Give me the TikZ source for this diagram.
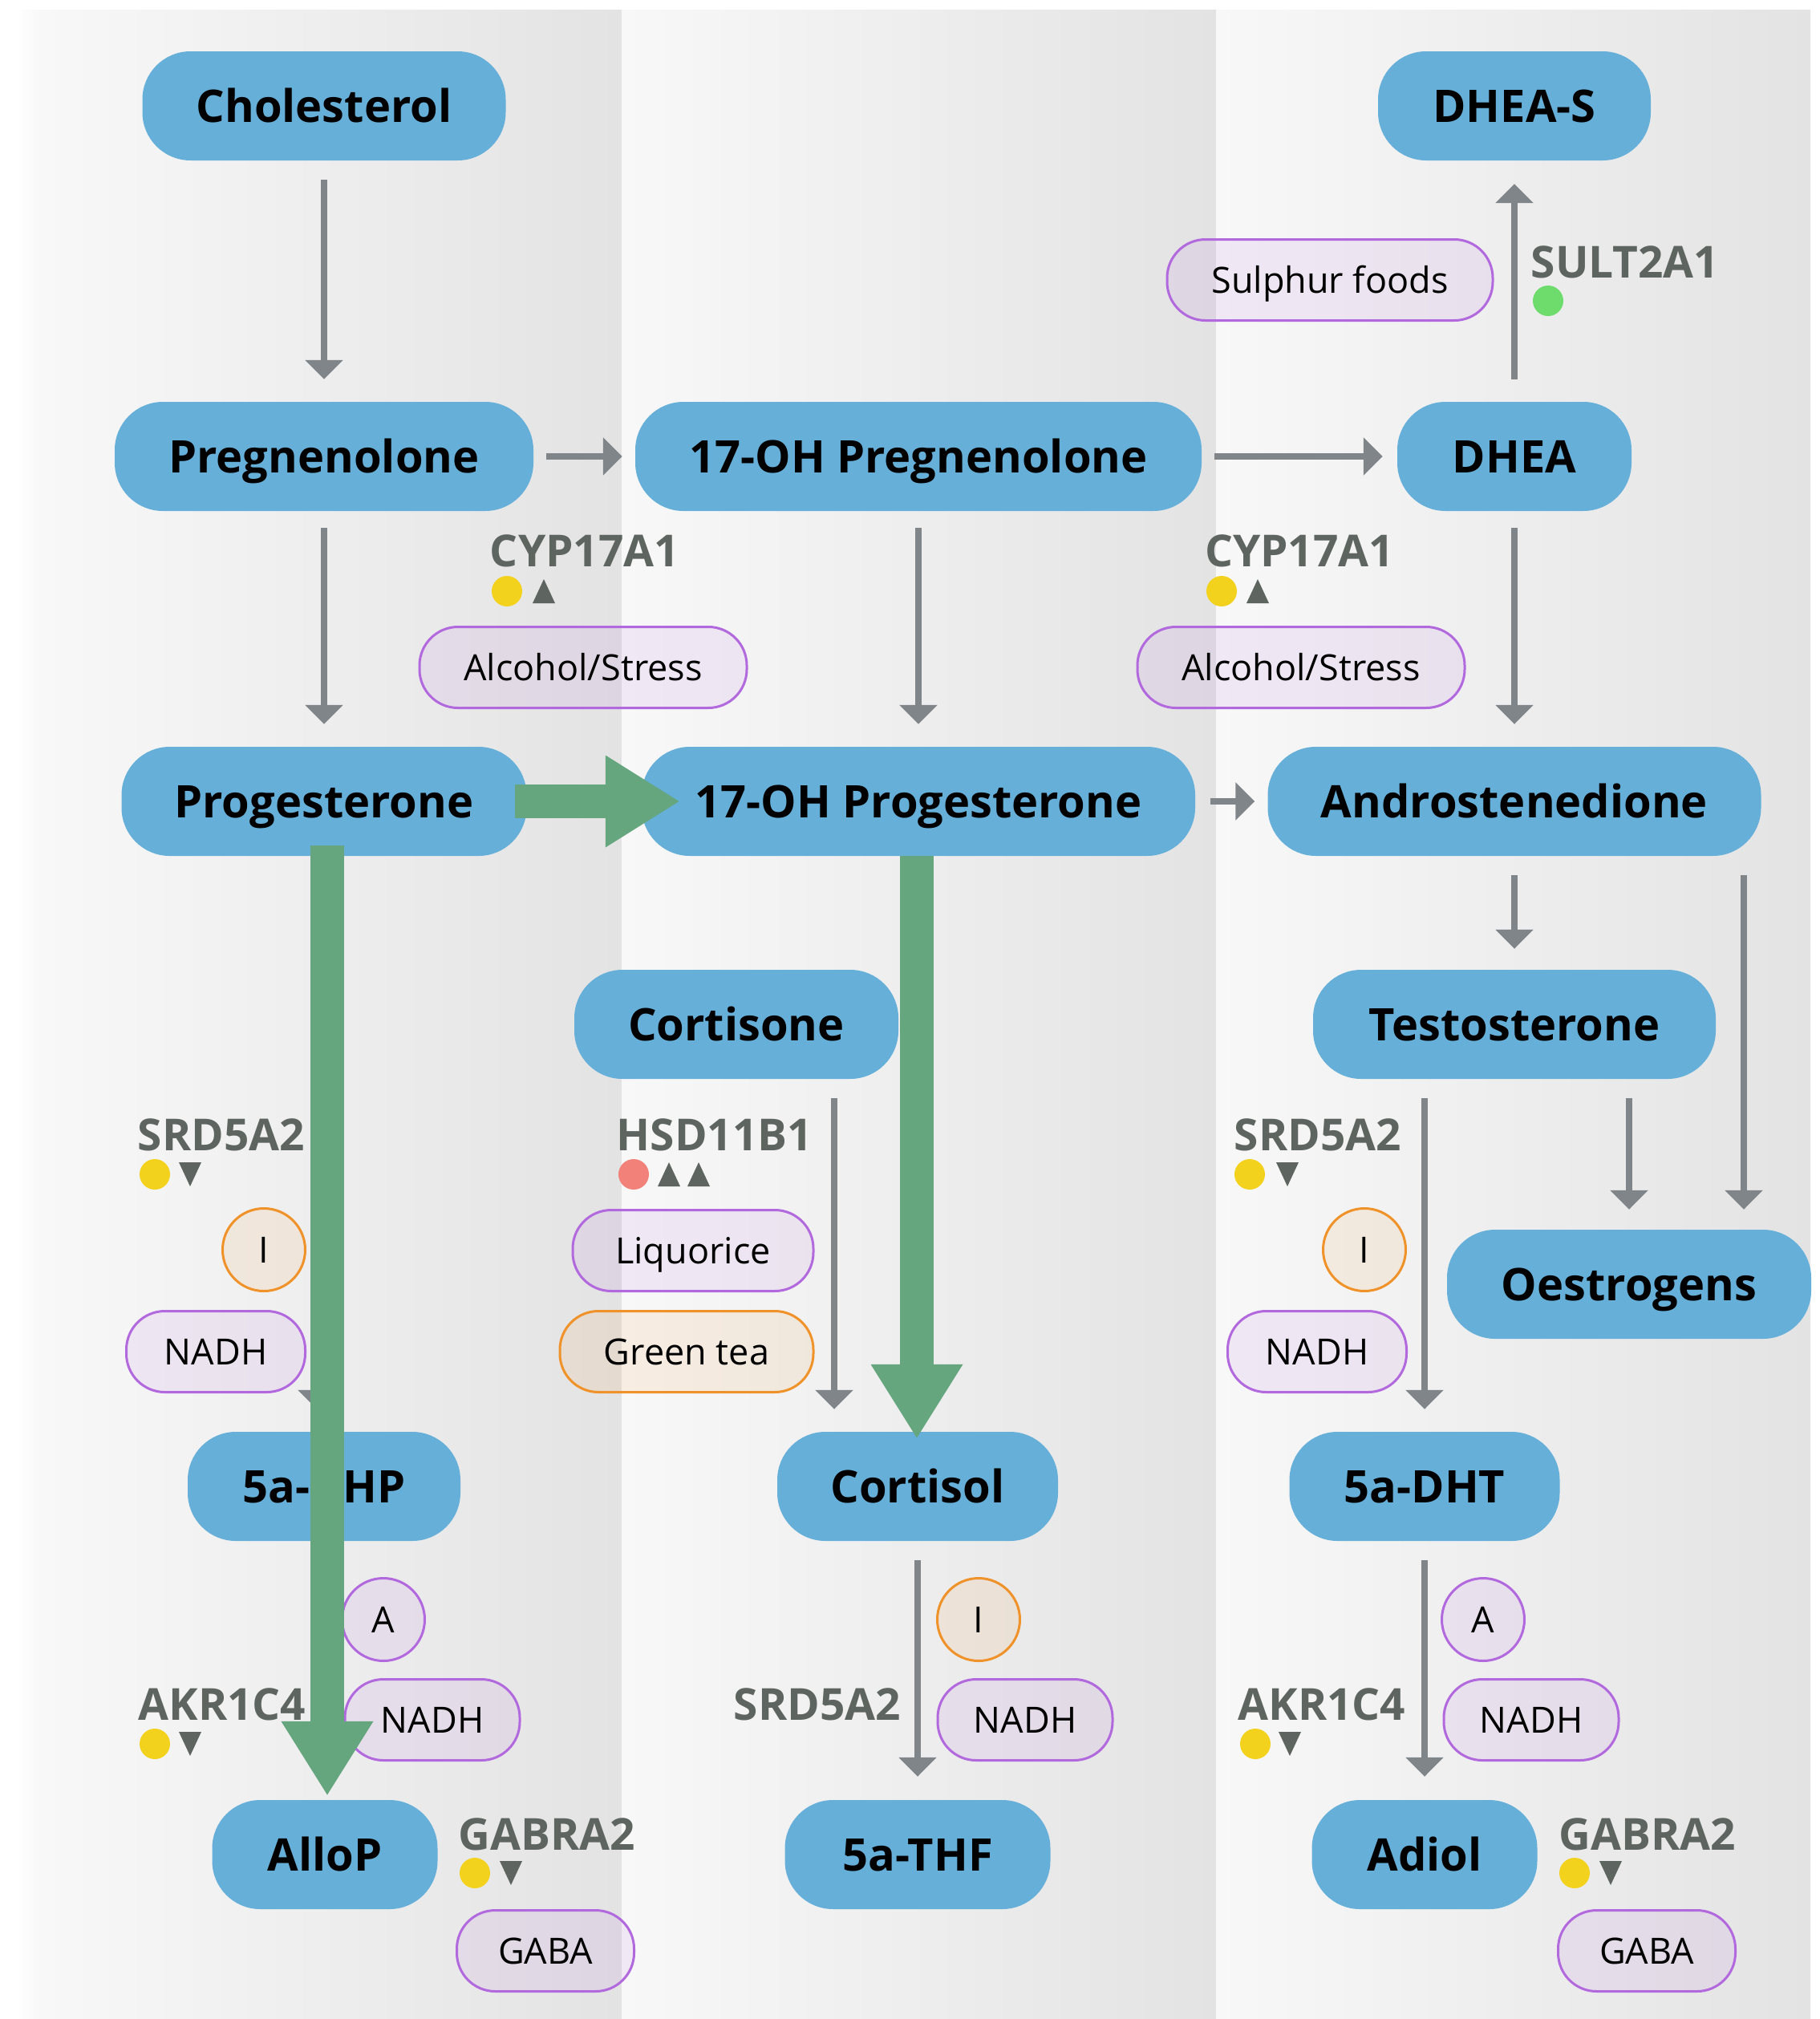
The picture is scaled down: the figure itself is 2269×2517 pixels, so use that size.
\documentclass[tikz,border=0pt]{standalone}
\usepackage{fontspec}
\setmainfont{Open Sans}
\usetikzlibrary{arrows.meta}

\definecolor{nodeblue}{HTML}{66AFD9}
\definecolor{flowgray}{HTML}{80858A}
\definecolor{enzgray}{HTML}{5E6561}
\definecolor{fastgreen}{HTML}{65A67F}
\definecolor{cofpurple}{HTML}{B169DD}
\definecolor{coforange}{HTML}{F0922A}
\definecolor{dotyellow}{HTML}{F3D21E}
\definecolor{dotred}{HTML}{F28179}
\definecolor{dotgreen}{HTML}{6EDC6C}
\definecolor{bgl}{HTML}{F8F8F8}
\definecolor{bgr}{HTML}{E3E3E3}

\tikzset{
  hormone/.style={fill=nodeblue, rounded corners=60pt, minimum height=136pt,
    inner sep=0pt, text=black, text height=40pt, text depth=0pt,
    font=\fontsize{56}{60}\selectfont\bfseries},
  cofactor/.style={draw=cofpurple, line width=3pt, fill=cofpurple, fill opacity=0.1,
    draw opacity=1, text opacity=1, rounded corners=48pt, minimum height=101pt,
    inner sep=0pt, text=black, text height=32pt, text depth=0pt,
    font=\fontsize{45}{50}\selectfont},
  cofactorO/.style={cofactor, draw=coforange, fill=coforange},
  ring/.style={cofactor, circle, rounded corners=0pt, minimum size=103pt},
  ringO/.style={ring, draw=coforange, fill=coforange},
  enzyme/.style={inner sep=0pt, text=enzgray, text height=39pt, text depth=0pt,
    font=\fontsize{55}{60}\selectfont\bfseries},
  flow/.style={draw=flowgray, line width=8pt, -{Triangle[width=46pt,length=24pt]}},
  fast/.style={draw=fastgreen, line width=42pt, -{Triangle[width=108pt,length=93pt]}},
  uptri/.pic={\fill[enzgray] (-14,15) -- (14,15) -- (0,-15) -- cycle;},
  downtri/.pic={\fill[enzgray] (-14,-15) -- (14,-15) -- (0,15) -- cycle;},
}

\begin{document}
\begin{tikzpicture}[x=1pt, y=-1pt]
  % canvas and the three column bands
  \fill[white] (0,0) rectangle (2269,2517);
  \useasboundingbox (0,0) rectangle (2269,2517);
  \shade[left color=white, right color=bgl] (20,12) rectangle (50,2517);
  \shade[left color=bgl, right color=bgr] (50,12) rectangle (775,2517);
  \shade[left color=bgl, right color=bgr] (775,12) rectangle (1516,2517);
  \shade[left color=bgl, right color=bgr] (1516,12) rectangle (2257,2517);

  % hormones
  \node[hormone, minimum width=453pt] (chol)   at (404,132)  {Cholesterol};
  \node[hormone, minimum width=522pt] (preg)   at (404,569)  {Pregnenolone};
  \node[hormone, minimum width=706pt] (ohpreg) at (1145,569) {17-OH Pregnenolone};
  \node[hormone, minimum width=292pt] (dhea)   at (1888,569) {DHEA};
  \node[hormone, minimum width=340pt] (dheas)  at (1888,132) {DHEA-S};
  \node[hormone, minimum width=505pt] (prog)   at (404,999)  {Progesterone};
  \node[hormone, minimum width=690pt] (ohprog) at (1145,999) {17-OH Progesterone};
  \node[hormone, minimum width=615pt] (andro)  at (1888,999) {Androstenedione};
  \node[hormone, minimum width=404pt] (cortn)  at (918,1277) {Cortisone};
  \node[hormone, minimum width=502pt] (testo)  at (1888,1277) {Testosterone};
  \node[hormone, minimum width=454pt] (oest)   at (2031,1601) {Oestrogens};
  \node[hormone, minimum width=340pt] (dhp)    at (404,1853) {5a-DHP};
  \node[hormone, minimum width=350pt] (cortl)  at (1144,1853) {Cortisol};
  \node[hormone, minimum width=337pt] (dht)    at (1776,1853) {5a-DHT};
  \node[hormone, minimum width=281pt] (allop)  at (405,2312) {AlloP};
  \node[hormone, minimum width=331pt] (thf)    at (1144,2312) {5a-THF};
  \node[hormone, minimum width=281pt] (adiol)  at (1776,2312) {Adiol};

  % conversion steps
  \draw[flow] ([yshift=-24pt]chol.south) -- ([yshift=28pt]preg.north);
  \draw[flow] ([xshift=16pt]preg.east) -- ([xshift=-16pt]ohpreg.west);
  \draw[flow] ([xshift=16pt]ohpreg.east) -- ([xshift=-18pt]dhea.west);
  \draw[flow] ([yshift=28pt]dhea.north) -- ([yshift=-29pt]dheas.south);
  \draw[flow] ([yshift=-21pt]preg.south) -- ([yshift=28pt]prog.north);
  \draw[flow] ([yshift=-21pt]ohpreg.south) -- ([yshift=28pt]ohprog.north);
  \draw[flow] ([yshift=-21pt]dhea.south) -- ([yshift=28pt]andro.north);
  \draw[flow] ([xshift=19pt]ohprog.east) -- ([xshift=-16pt]andro.west);
  \draw[flow] ([yshift=-24pt]andro.south) -- ([yshift=26pt]testo.north);
  \draw[flow] ([xshift=286pt,yshift=-24pt]andro.south) -- ([xshift=143pt,yshift=25pt]oest.north);
  \draw[flow] ([xshift=143pt,yshift=-24pt]testo.south) -- ([yshift=25pt]oest.north);
  \draw[flow] ([xshift=-112pt,yshift=-24pt]testo.south) -- ([yshift=28pt]dht.north);
  \draw[flow] ([xshift=122pt,yshift=-24pt]cortn.south) -- ([xshift=-104pt,yshift=28pt]cortl.north);
  \draw[flow] ([yshift=-24pt]cortl.south) -- ([yshift=29pt]thf.north);
  \draw[flow] ([yshift=-24pt]dht.south) -- ([yshift=29pt]adiol.north);
  \draw[flow] ([xshift=-9pt,yshift=-24pt]prog.south) -- ([xshift=-9pt,yshift=28pt]dhp.north);
  \draw[flow] ([yshift=-24pt]dhp.south) -- ([xshift=-1pt,yshift=29pt]allop.north);

  % cofactors and modifiers
  \node[cofactor, minimum width=406pt] (sulph) at (1658,349)  {Sulphur foods};
  \node[cofactor, minimum width=408pt] (alc1)  at (727,832)   {Alcohol/Stress};
  \node[cofactor, minimum width=408pt] (alc2)  at (1622,832)  {Alcohol/Stress};
  \node[ringO] (iL) at (329,1558) {I};
  \node[cofactor, minimum width=223pt] (nadhL) at (269,1685)  {NADH};
  \node[cofactor, minimum width=300pt] (liq)   at (864,1559)  {Liquorice};
  \node[cofactorO, minimum width=316pt] (gtea) at (856,1685)  {Green tea};
  \node[ringO] (iR) at (1701,1558) {I};
  \node[cofactor, minimum width=223pt] (nadhR) at (1642,1685) {NADH};
  \node[ring] (aL) at (478,2019) {A};
  \node[cofactor, minimum width=218pt] (nadhA) at (539,2144)  {NADH};
  \node[ringO] (iM) at (1220,2019) {I};
  \node[cofactor, minimum width=218pt] (nadhM) at (1278,2144) {NADH};
  \node[ring] (aR) at (1849,2019) {A};
  \node[cofactor, minimum width=218pt] (nadhC) at (1909,2144) {NADH};
  \node[cofactor, minimum width=221pt] (gabaL) at (680,2432)  {GABA};
  \node[cofactor, minimum width=221pt] (gabaR) at (2053,2432) {GABA};

  % enzymes
  \node[enzyme] (cyp1) at (729,687)   {CYP17A1};
  \node[enzyme] (cyp2) at (1620,687)  {CYP17A1};
  \node[enzyme] (sult) at (2026,327)  {SULT2A1};
  \node[enzyme] (srdL) at (276,1415)  {SRD5A2};
  \node[enzyme] (hsd)  at (891,1415)  {HSD11B1};
  \node[enzyme] (srdR) at (1643,1415) {SRD5A2};
  \node[enzyme] (akrL) at (277,2125)  {AKR1C4};
  \node[enzyme] (srdM) at (1019,2125) {SRD5A2};
  \node[enzyme] (akrR) at (1648,2125) {AKR1C4};
  \node[enzyme] (gabL) at (682,2287)  {GABRA2};
  \node[enzyme] (gabR) at (2054,2287) {GABRA2};

  % enzyme markers
  \fill[dotyellow] (632,737) circle (19pt);  \pic at (678,737) {uptri};
  \fill[dotyellow] (1523,737) circle (19pt); \pic at (1568,737) {uptri};
  \fill[dotgreen]  (1930,375) circle (19pt);
  \fill[dotyellow] (193,1464) circle (19pt); \pic at (237,1464) {downtri};
  \fill[dotred]    (790,1464) circle (19pt); \pic at (834,1464) {uptri}; \pic at (871,1464) {uptri};
  \fill[dotyellow] (1558,1464) circle (19pt); \pic at (1605,1464) {downtri};
  \fill[dotyellow] (193,2174) circle (19pt); \pic at (237,2174) {downtri};
  \fill[dotyellow] (1565,2174) circle (19pt); \pic at (1608,2174) {downtri};
  \fill[dotyellow] (592,2335) circle (19pt); \pic at (637,2335) {downtri};
  \fill[dotyellow] (1963,2335) circle (19pt); \pic at (2008,2335) {downtri};

  % dominant routes
  \draw[fast] ([xshift=-15pt]prog.east) -- ([xshift=48pt]ohprog.west);
  \draw[fast] ([xshift=4pt,yshift=13pt]prog.south) -- ([xshift=3pt,yshift=5pt]allop.north);
  \draw[fast] ([xshift=-2pt]ohprog.south) -- ([xshift=-1pt,yshift=-9pt]cortl.north);
\end{tikzpicture}
\end{document}
